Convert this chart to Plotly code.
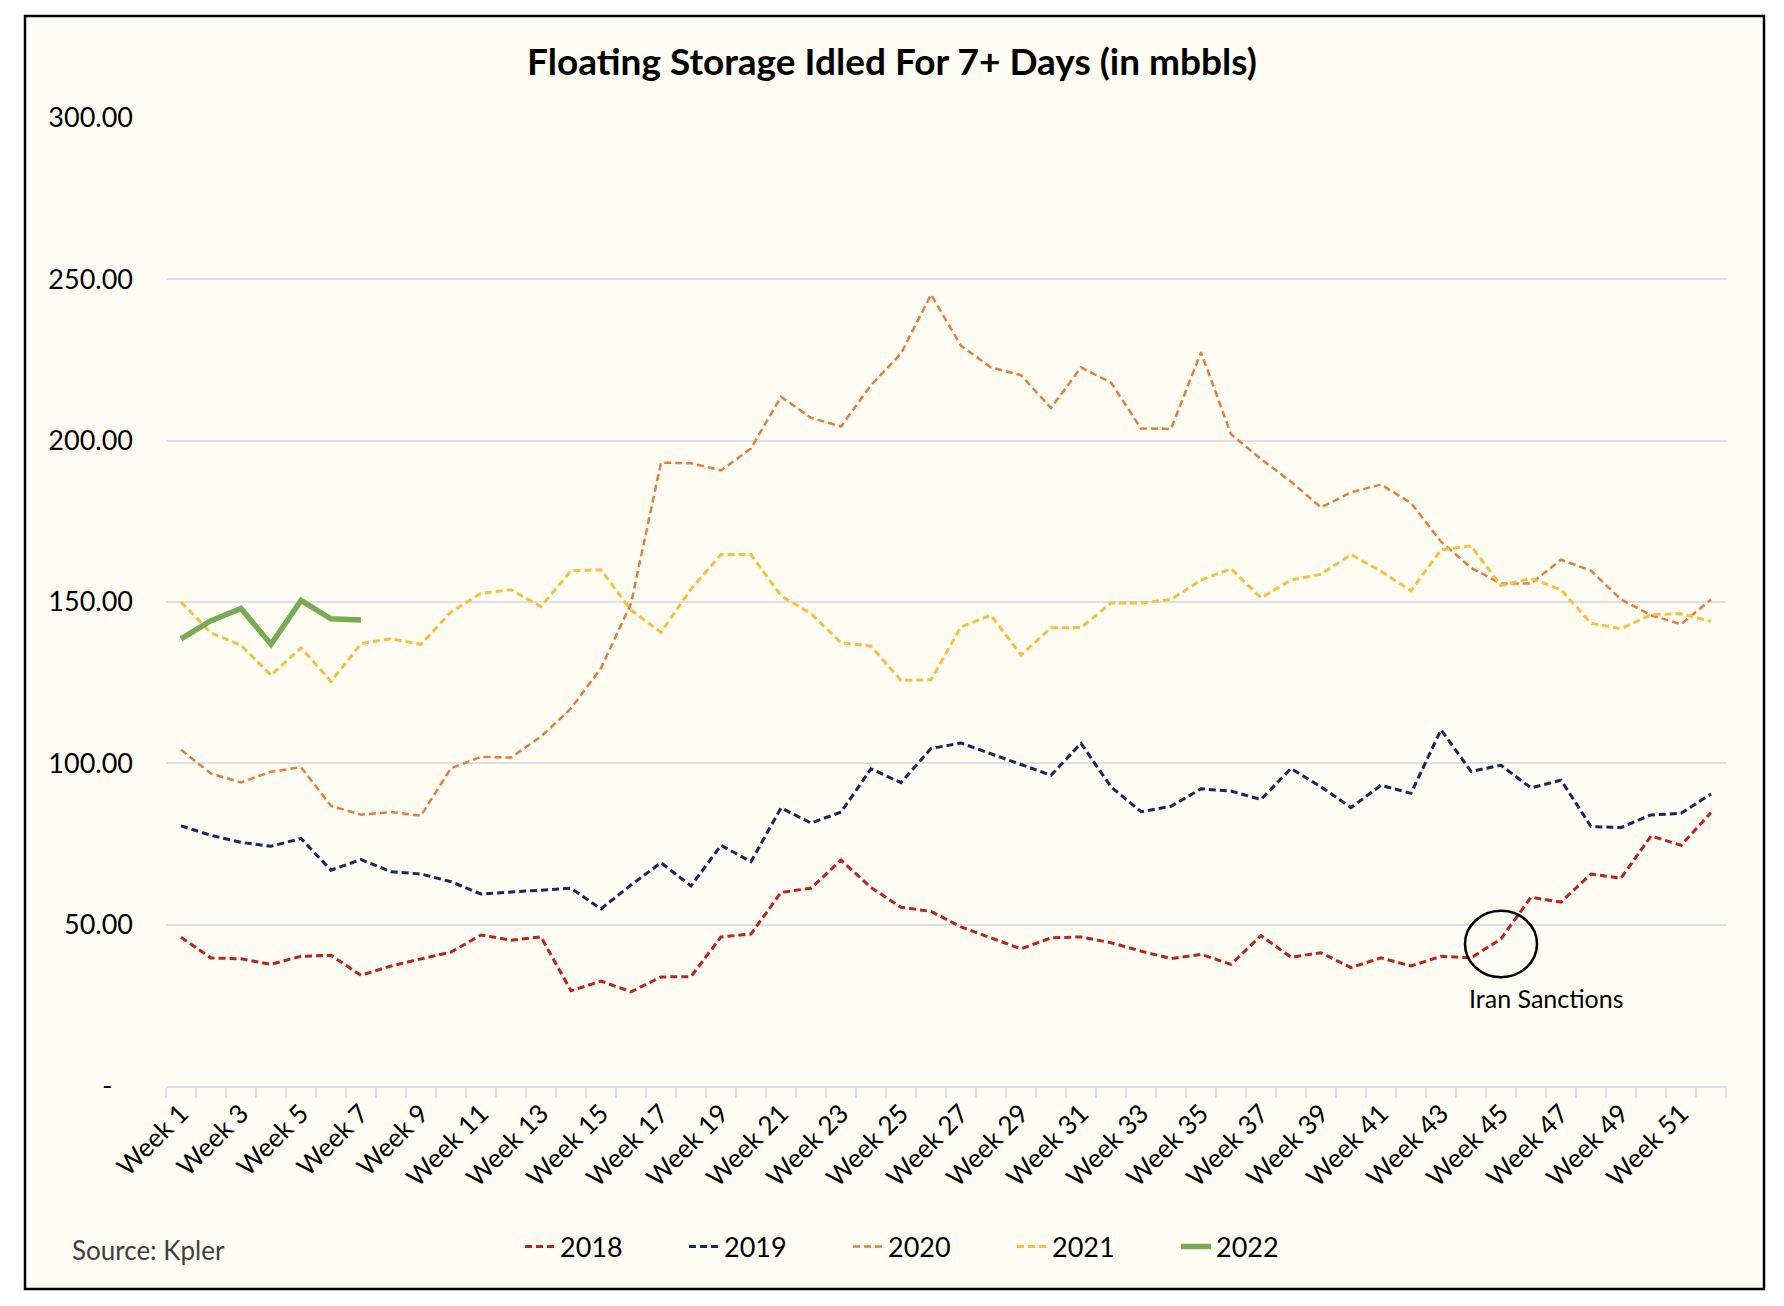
import plotly.graph_objects as go

weeks = [f"Week {i}" for i in range(1, 53)]
week_labels = [w if i % 2 == 0 else "" for i, w in enumerate(weeks)]

y_tickvals = [0, 50, 100, 150, 200, 250, 300]
y_ticktext = ["-\u00a0\u00a0\u00a0", "50.00", "100.00", "150.00", "200.00", "250.00", "300.00"]

s2018 = [46.1, 39.7, 39.4, 37.7, 40.2, 40.5, 34.3, 37.2, 39.4, 41.5,
         46.8, 45.2, 46.2, 29.5, 32.5, 29.2, 33.8, 33.9, 46.2, 47.1,
         60.0, 61.3, 70.0, 61.5, 55.4, 54.1, 49.3, 45.9, 42.5, 45.9,
         46.2, 44.4, 41.8, 39.5, 40.8, 37.7, 46.6, 39.9, 41.3, 36.7,
         39.7, 37.2, 40.2, 39.7, 45.6, 58.5, 57.0, 65.7, 64.4, 77.5,
         74.6, 84.7]
s2019 = [80.6, 77.7, 75.5, 74.3, 76.7, 66.9, 70.2, 66.4, 65.7, 63.3,
         59.5, 60.1, 60.5, 61.3, 54.9, 62.3, 69.2, 62.0, 74.6, 69.5,
         86.2, 81.5, 84.9, 98.3, 94.0, 104.6, 106.3, 102.9, 99.5, 96.3,
         106.2, 92.7, 85.0, 86.7, 92.1, 91.4, 88.8, 98.4, 92.7, 86.3,
         93.2, 90.7, 110.4, 97.5, 99.4, 92.4, 94.8, 80.4, 80.1, 84.0,
         84.5, 90.5]
s2020 = [104.2, 96.8, 94.1, 97.4, 98.8, 86.8, 84.1, 84.9, 83.8, 98.5,
         102.0, 101.8, 108.3, 117.0, 129.5, 149.5, 193.2, 193.0, 190.8, 197.6,
         213.6, 207.1, 204.4, 217.2, 227.0, 245.3, 229.4, 222.7, 220.3, 210.1,
         222.7, 218.0, 203.8, 203.6, 227.4, 202.0, 194.3, 187.3, 179.3, 184.0,
         186.4, 180.7, 168.7, 160.6, 155.7, 155.7, 163.1, 159.7, 150.8, 145.9,
         143.1, 150.8]
s2021 = [150.0, 140.4, 136.6, 127.3, 135.8, 125.4, 137.1, 138.6, 136.9, 146.9,
         152.7, 153.8, 148.6, 159.7, 160.0, 147.5, 140.6, 154.0, 164.7, 164.7,
         151.9, 146.4, 137.4, 136.3, 125.7, 125.9, 142.3, 145.9, 133.6, 142.0,
         142.0, 149.7, 149.7, 150.8, 156.8, 160.3, 151.3, 156.8, 158.6, 164.7,
         159.5, 153.5, 166.2, 167.4, 155.1, 157.3, 153.8, 143.4, 141.7, 146.1,
         146.4, 144.0]
s2022 = [138.6, 144.2, 148.0, 136.9, 150.5, 144.8, 144.4]

series = [
    ("2018", s2018, "#B4261F", 3, "7px,4px"),
    ("2019", s2019, "#16285A", 3, "7px,4px"),
    ("2020", s2020, "#E07F3E", 2.5, "7px,4px"),
    ("2021", s2021, "#F7C03E", 3, "7px,4px"),
    ("2022", s2022, "#78AB52", 5.5, "solid"),
]

BG = "#FFFCF3"
GRID = "#DCDFE5"
FONT = "Lato"

fig = go.Figure()
for name, vals, color, width, dash in series:
    fig.add_trace(go.Scatter(
        x=weeks[:len(vals)], y=vals, name=name, mode="lines",
        line=dict(color=color, width=width, dash=dash),
    ))

# plot area in pixels: x 166..1726, y 118..1086
L, R, T, B = 166, 58, 118, 220
W, H = 1784, 1306
pw, ph = W - L - R, H - T - B


def px_x(p):
    return (p - L) / pw


def px_y(p):
    return (H - B - p) / ph


# outer framed cream panel
fig.add_shape(type="rect", xref="paper", yref="paper",
              x0=px_x(25), x1=px_x(1764), y0=px_y(1289), y1=px_y(16),
              line=dict(color="black", width=2.5), fillcolor=BG, layer="below")

# Iran sanctions circle (around week 45)
fig.add_shape(type="circle", xref="x", yref="y",
              x0=44 - 1.2, x1=44 + 1.2, y0=44 - 10.3, y1=44 + 10.3,
              line=dict(color="black", width=2.5))
fig.add_annotation(x=45.5, y=27.3, xref="x", yref="y", text="Iran Sanctions",
                   showarrow=False, font=dict(family=FONT, size=25, color="black"),
                   xanchor="center", yanchor="middle")
fig.add_annotation(x=px_x(70), y=px_y(1250), xref="paper", yref="paper",
                   text="Source: Kpler", showarrow=False,
                   font=dict(family=FONT, size=26, color="#404040"),
                   xanchor="left", yanchor="middle")

fig.update_layout(
    width=W, height=H, autosize=False,
    margin=dict(l=L, r=R, t=T, b=B),
    paper_bgcolor="white", plot_bgcolor=BG,
    font=dict(family=FONT, size=26, color="black"),
    title=dict(text="<b>Floating Storage Idled For 7+ Days (in mbbls)</b>",
               x=0.5, xref="container", xanchor="center",
               y=1 - 62 / H, yref="container", yanchor="middle",
               font=dict(family=FONT, size=37, color="black")),
    showlegend=True,
    legend=dict(orientation="h", x=px_x(520), y=px_y(1247),
                xanchor="left", yanchor="middle",
                font=dict(family=FONT, size=27, color="black"),
                bgcolor="rgba(0,0,0,0)", entrywidth=119, entrywidthmode="pixels",
                traceorder="normal"),
    xaxis=dict(type="category", categoryorder="array", categoryarray=weeks,
               range=[-0.5, 51.5], tickvals=weeks, ticktext=week_labels,
               tickson="boundaries", ticks="outside", ticklen=10,
               tickcolor=GRID, tickwidth=2, showline=True, linecolor=GRID,
               linewidth=2, showgrid=False, tickangle=-45,
               tickfont=dict(family=FONT, size=26, color="black"),
               fixedrange=True, zeroline=False),
    yaxis=dict(range=[0, 300], tickvals=y_tickvals, ticktext=y_ticktext,
               showgrid=True, gridcolor=GRID, gridwidth=2, zeroline=False,
               showline=False, ticks="", ticklabelstandoff=32,
               tickfont=dict(family=FONT, size=27, color="black"),
               fixedrange=True),
)

fig.write_html("out.html", config={"displayModeBar": False},
               post_script="document.body.style.margin='0';document.body.style.overflow='hidden';")
